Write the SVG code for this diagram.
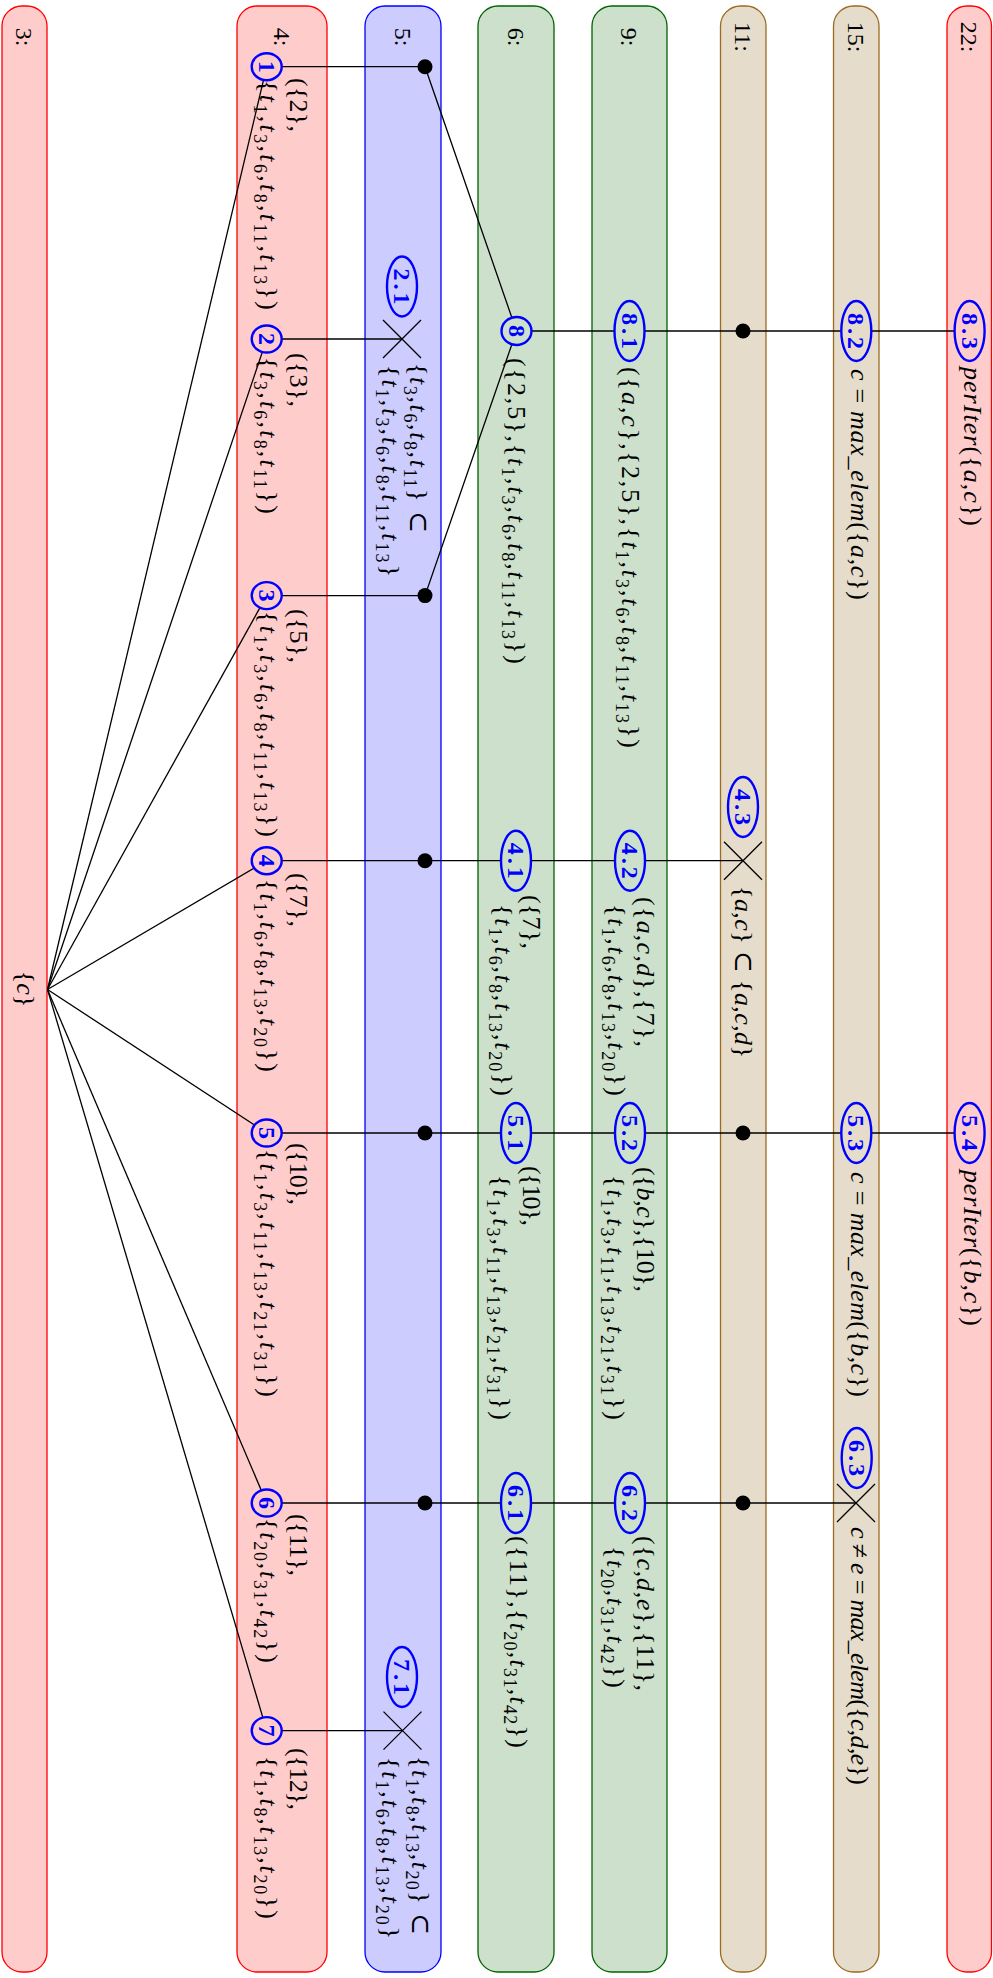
<svg xmlns="http://www.w3.org/2000/svg" width="993" height="1978" viewBox="0 0 993 1978">
<style>
.lane{stroke-width:1.3}
.red{fill:#ffcccc;stroke:#ff0000}
.blu{fill:#ccccff;stroke:#0000ff}
.grn{fill:#cce0cc;stroke:#006400}
.brn{fill:#e6dccb;stroke:#9c6b1e}
.fr{fill:#ffcccc}.fb{fill:#ccccff}.fg{fill:#cce0cc}.fn{fill:#e6dccb}
.m{font-family:"Liberation Serif","DejaVu Serif",serif;font-size:26px;fill:#000}
.lbl{font-family:"Liberation Serif","DejaVu Serif",serif;font-size:24px;fill:#000;text-anchor:middle}
.i{font-style:italic}
.s{font-size:18px}
.id{font-family:"Liberation Serif","DejaVu Serif",serif;font-size:24px;font-weight:bold;fill:#0000ff;text-anchor:middle}
.node{stroke:#0000ff;stroke-width:2.4}
.edge{stroke:#000;stroke-width:1.3;fill:none}
.dot{fill:#000}
.cross{stroke:#000;stroke-width:1.3}
</style>

<!-- swim lanes -->
<g id="lanes">
  <g id="lane-3"><rect class="lane red" x="2" y="6" width="45" height="1966" rx="20"/><text class="lbl" transform="translate(16,37) rotate(90)">3:</text>
    <text class="m" text-anchor="middle" transform="translate(17,989) rotate(90)">{<tspan class="i">c</tspan>}</text></g>
  <g id="lane-4"><rect class="lane red" x="237" y="6" width="90" height="1966" rx="20"/><text class="lbl" transform="translate(273.5,37) rotate(90)">4:</text></g>
  <g id="lane-5"><rect class="lane blu" x="365" y="6" width="76" height="1966" rx="20"/><text class="lbl" transform="translate(394.5,37) rotate(90)">5:</text></g>
  <g id="lane-6"><rect class="lane grn" x="478" y="6" width="76" height="1966" rx="20"/><text class="lbl" transform="translate(507.5,37) rotate(90)">6:</text></g>
  <g id="lane-9"><rect class="lane grn" x="592" y="6" width="75" height="1966" rx="20"/><text class="lbl" transform="translate(621,37) rotate(90)">9:</text></g>
  <g id="lane-11"><rect class="lane brn" x="720.5" y="6" width="45.5" height="1966" rx="20"/><text class="lbl" transform="translate(734.5,37) rotate(90)">11:</text></g>
  <g id="lane-15"><rect class="lane brn" x="833.5" y="6" width="45.5" height="1966" rx="20"/><text class="lbl" transform="translate(847.5,37) rotate(90)">15:</text></g>
  <g id="lane-22"><rect class="lane red" x="947" y="6" width="44.5" height="1966" rx="20"/><text class="lbl" transform="translate(960.5,37) rotate(90)">22:</text></g>
</g>

<!-- connectors -->
<g id="connectors" class="edge">
  <path d="M47.5 989.5 L266.7 66.7"/>
  <path d="M47.5 989.5 L266.7 339"/>
  <path d="M47.5 989.5 L266.7 595.6"/>
  <path d="M47.5 989.5 L266.7 860.7"/>
  <path d="M47.5 989.5 L266.7 1133"/>
  <path d="M47.5 989.5 L266.7 1503"/>
  <path d="M47.5 989.5 L266.7 1730.6"/>
  <path d="M266.7 66.7 H425 L516.5 331"/>
  <path d="M266.7 339 H402"/>
  <path d="M266.7 595.6 H425 L516.5 331"/>
  <path d="M516.5 331 H969.5"/>
  <path d="M266.7 860.7 H743"/>
  <path d="M266.7 1133 H969.5"/>
  <path d="M266.7 1503 H856"/>
  <path d="M266.7 1730.6 H402.5"/>
</g>

<!-- junction dots and cut marks -->
<g id="j-5-1"><circle class="dot" cx="425" cy="66.7" r="7.5"/></g>
<g id="j-5-3"><circle class="dot" cx="425" cy="595.6" r="7.5"/></g>
<g id="j-5-4"><circle class="dot" cx="425" cy="860.7" r="7.5"/></g>
<g id="j-5-5"><circle class="dot" cx="425" cy="1133" r="7.5"/></g>
<g id="j-5-6"><circle class="dot" cx="425" cy="1503" r="7.5"/></g>
<g id="j-11-8"><circle class="dot" cx="743" cy="331" r="7.5"/></g>
<g id="j-11-5"><circle class="dot" cx="743" cy="1133" r="7.5"/></g>
<g id="j-11-6"><circle class="dot" cx="743" cy="1503" r="7.5"/></g>
<g id="x-5-2" class="cross"><path d="M383 320 L421 358 M421 320 L383 358"/></g>
<g id="x-11-4" class="cross"><path d="M724 841.7 L762 879.7 M762 841.7 L724 879.7"/></g>
<g id="x-15-6" class="cross"><path d="M837 1484 L875 1522 M875 1484 L837 1522"/></g>
<g id="x-5-7" class="cross"><path d="M383.5 1711.6 L421.5 1749.6 M421.5 1711.6 L383.5 1749.6"/></g>

<!-- lane 4 nodes -->
<g id="n1"><ellipse class="node fr" cx="266.7" cy="66.7" rx="15" ry="13.5"/><text class="id" transform="translate(258.7,66.7) rotate(90)">1</text>
  <text class="m" transform="translate(290,78) rotate(90)" textLength="54" lengthAdjust="spacing">({2},</text>
  <text class="m" transform="translate(260,80) rotate(90)" textLength="230" lengthAdjust="spacing">{<tspan class="i">t</tspan><tspan class="s" dy="6">1</tspan><tspan dy="-6">,</tspan><tspan class="i">t</tspan><tspan class="s" dy="6">3</tspan><tspan dy="-6">,</tspan><tspan class="i">t</tspan><tspan class="s" dy="6">6</tspan><tspan dy="-6">,</tspan><tspan class="i">t</tspan><tspan class="s" dy="6">8</tspan><tspan dy="-6">,</tspan><tspan class="i">t</tspan><tspan class="s" dy="6">11</tspan><tspan dy="-6">,</tspan><tspan class="i">t</tspan><tspan class="s" dy="6">13</tspan><tspan dy="-6">})</tspan></text></g>
<g id="n2"><ellipse class="node fr" cx="266.7" cy="339" rx="15" ry="13.5"/><text class="id" transform="translate(258.7,339) rotate(90)">2</text>
  <text class="m" transform="translate(290,353) rotate(90)" textLength="54" lengthAdjust="spacing">({3},</text>
  <text class="m" transform="translate(260,357) rotate(90)" textLength="157" lengthAdjust="spacing">{<tspan class="i">t</tspan><tspan class="s" dy="6">3</tspan><tspan dy="-6">,</tspan><tspan class="i">t</tspan><tspan class="s" dy="6">6</tspan><tspan dy="-6">,</tspan><tspan class="i">t</tspan><tspan class="s" dy="6">8</tspan><tspan dy="-6">,</tspan><tspan class="i">t</tspan><tspan class="s" dy="6">11</tspan><tspan dy="-6">})</tspan></text></g>
<g id="n3"><ellipse class="node fr" cx="266.7" cy="595.6" rx="15" ry="13.5"/><text class="id" transform="translate(258.7,595.6) rotate(90)">3</text>
  <text class="m" transform="translate(290,609) rotate(90)" textLength="54" lengthAdjust="spacing">({5},</text>
  <text class="m" transform="translate(260,611) rotate(90)" textLength="226" lengthAdjust="spacing">{<tspan class="i">t</tspan><tspan class="s" dy="6">1</tspan><tspan dy="-6">,</tspan><tspan class="i">t</tspan><tspan class="s" dy="6">3</tspan><tspan dy="-6">,</tspan><tspan class="i">t</tspan><tspan class="s" dy="6">6</tspan><tspan dy="-6">,</tspan><tspan class="i">t</tspan><tspan class="s" dy="6">8</tspan><tspan dy="-6">,</tspan><tspan class="i">t</tspan><tspan class="s" dy="6">11</tspan><tspan dy="-6">,</tspan><tspan class="i">t</tspan><tspan class="s" dy="6">13</tspan><tspan dy="-6">})</tspan></text></g>
<g id="n4"><ellipse class="node fr" cx="266.7" cy="860.7" rx="15" ry="13.5"/><text class="id" transform="translate(258.7,860.7) rotate(90)">4</text>
  <text class="m" transform="translate(290,873) rotate(90)" textLength="54" lengthAdjust="spacing">({7},</text>
  <text class="m" transform="translate(260,879) rotate(90)" textLength="193" lengthAdjust="spacing">{<tspan class="i">t</tspan><tspan class="s" dy="6">1</tspan><tspan dy="-6">,</tspan><tspan class="i">t</tspan><tspan class="s" dy="6">6</tspan><tspan dy="-6">,</tspan><tspan class="i">t</tspan><tspan class="s" dy="6">8</tspan><tspan dy="-6">,</tspan><tspan class="i">t</tspan><tspan class="s" dy="6">13</tspan><tspan dy="-6">,</tspan><tspan class="i">t</tspan><tspan class="s" dy="6">20</tspan><tspan dy="-6">})</tspan></text></g>
<g id="n5"><ellipse class="node fr" cx="266.7" cy="1133" rx="15" ry="13.5"/><text class="id" transform="translate(258.7,1133) rotate(90)">5</text>
  <text class="m" transform="translate(290,1143) rotate(90)" textLength="62" lengthAdjust="spacing">({10},</text>
  <text class="m" transform="translate(260,1149) rotate(90)" textLength="248" lengthAdjust="spacing">{<tspan class="i">t</tspan><tspan class="s" dy="6">1</tspan><tspan dy="-6">,</tspan><tspan class="i">t</tspan><tspan class="s" dy="6">3</tspan><tspan dy="-6">,</tspan><tspan class="i">t</tspan><tspan class="s" dy="6">11</tspan><tspan dy="-6">,</tspan><tspan class="i">t</tspan><tspan class="s" dy="6">13</tspan><tspan dy="-6">,</tspan><tspan class="i">t</tspan><tspan class="s" dy="6">21</tspan><tspan dy="-6">,</tspan><tspan class="i">t</tspan><tspan class="s" dy="6">31</tspan><tspan dy="-6">})</tspan></text></g>
<g id="n6"><ellipse class="node fr" cx="266.7" cy="1503" rx="15" ry="13.5"/><text class="id" transform="translate(258.7,1503) rotate(90)">6</text>
  <text class="m" transform="translate(290,1514) rotate(90)" textLength="62" lengthAdjust="spacing">({11},</text>
  <text class="m" transform="translate(260,1518) rotate(90)" textLength="145" lengthAdjust="spacing">{<tspan class="i">t</tspan><tspan class="s" dy="6">20</tspan><tspan dy="-6">,</tspan><tspan class="i">t</tspan><tspan class="s" dy="6">31</tspan><tspan dy="-6">,</tspan><tspan class="i">t</tspan><tspan class="s" dy="6">42</tspan><tspan dy="-6">})</tspan></text></g>
<g id="n7"><ellipse class="node fr" cx="266.7" cy="1730.6" rx="15" ry="13.5"/><text class="id" transform="translate(258.7,1730.6) rotate(90)">7</text>
  <text class="m" transform="translate(290,1748) rotate(90)" textLength="62" lengthAdjust="spacing">({12},</text>
  <text class="m" transform="translate(260,1756) rotate(90)" textLength="163" lengthAdjust="spacing">{<tspan class="i">t</tspan><tspan class="s" dy="6">1</tspan><tspan dy="-6">,</tspan><tspan class="i">t</tspan><tspan class="s" dy="6">8</tspan><tspan dy="-6">,</tspan><tspan class="i">t</tspan><tspan class="s" dy="6">13</tspan><tspan dy="-6">,</tspan><tspan class="i">t</tspan><tspan class="s" dy="6">20</tspan><tspan dy="-6">})</tspan></text></g>

<!-- lane 5 nodes -->
<g id="n2-1"><ellipse class="node fb" cx="402" cy="286.5" rx="15" ry="30"/><text class="id" transform="translate(394,286.5) rotate(90)" textLength="36" lengthAdjust="spacing">2.1</text>
  <text class="m" transform="translate(410,363) rotate(90)" textLength="170" lengthAdjust="spacing">{<tspan class="i">t</tspan><tspan class="s" dy="6">3</tspan><tspan dy="-6">,</tspan><tspan class="i">t</tspan><tspan class="s" dy="6">6</tspan><tspan dy="-6">,</tspan><tspan class="i">t</tspan><tspan class="s" dy="6">8</tspan><tspan dy="-6">,</tspan><tspan class="i">t</tspan><tspan class="s" dy="6">11</tspan><tspan dy="-6">} ⊂</tspan></text>
  <text class="m" transform="translate(382,365) rotate(90)" textLength="212" lengthAdjust="spacing">{<tspan class="i">t</tspan><tspan class="s" dy="6">1</tspan><tspan dy="-6">,</tspan><tspan class="i">t</tspan><tspan class="s" dy="6">3</tspan><tspan dy="-6">,</tspan><tspan class="i">t</tspan><tspan class="s" dy="6">6</tspan><tspan dy="-6">,</tspan><tspan class="i">t</tspan><tspan class="s" dy="6">8</tspan><tspan dy="-6">,</tspan><tspan class="i">t</tspan><tspan class="s" dy="6">11</tspan><tspan dy="-6">,</tspan><tspan class="i">t</tspan><tspan class="s" dy="6">13</tspan><tspan dy="-6">}</tspan></text></g>
<g id="n7-1"><ellipse class="node fb" cx="402" cy="1677" rx="15" ry="30"/><text class="id" transform="translate(394,1677) rotate(90)" textLength="36" lengthAdjust="spacing">7.1</text>
  <text class="m" transform="translate(412,1756) rotate(90)" textLength="179" lengthAdjust="spacing">{<tspan class="i">t</tspan><tspan class="s" dy="6">1</tspan><tspan dy="-6">,</tspan><tspan class="i">t</tspan><tspan class="s" dy="6">8</tspan><tspan dy="-6">,</tspan><tspan class="i">t</tspan><tspan class="s" dy="6">13</tspan><tspan dy="-6">,</tspan><tspan class="i">t</tspan><tspan class="s" dy="6">20</tspan><tspan dy="-6">} ⊂</tspan></text>
  <text class="m" transform="translate(382,1757) rotate(90)" textLength="182" lengthAdjust="spacing">{<tspan class="i">t</tspan><tspan class="s" dy="6">1</tspan><tspan dy="-6">,</tspan><tspan class="i">t</tspan><tspan class="s" dy="6">6</tspan><tspan dy="-6">,</tspan><tspan class="i">t</tspan><tspan class="s" dy="6">8</tspan><tspan dy="-6">,</tspan><tspan class="i">t</tspan><tspan class="s" dy="6">13</tspan><tspan dy="-6">,</tspan><tspan class="i">t</tspan><tspan class="s" dy="6">20</tspan><tspan dy="-6">}</tspan></text></g>

<!-- lane 6 nodes -->
<g id="n8"><ellipse class="node fg" cx="516.5" cy="331" rx="15" ry="14"/><text class="id" transform="translate(508.5,331) rotate(90)">8</text>
  <text class="m" transform="translate(508,358) rotate(90)" textLength="306" lengthAdjust="spacing">({2,5},{<tspan class="i">t</tspan><tspan class="s" dy="6">1</tspan><tspan dy="-6">,</tspan><tspan class="i">t</tspan><tspan class="s" dy="6">3</tspan><tspan dy="-6">,</tspan><tspan class="i">t</tspan><tspan class="s" dy="6">6</tspan><tspan dy="-6">,</tspan><tspan class="i">t</tspan><tspan class="s" dy="6">8</tspan><tspan dy="-6">,</tspan><tspan class="i">t</tspan><tspan class="s" dy="6">11</tspan><tspan dy="-6">,</tspan><tspan class="i">t</tspan><tspan class="s" dy="6">13</tspan><tspan dy="-6">})</tspan></text></g>
<g id="n4-1"><ellipse class="node fg" cx="516" cy="860.7" rx="15" ry="30"/><text class="id" transform="translate(508,860.7) rotate(90)" textLength="36" lengthAdjust="spacing">4.1</text>
  <text class="m" transform="translate(523,895) rotate(90)" textLength="54" lengthAdjust="spacing">({7},</text>
  <text class="m" transform="translate(495,904) rotate(90)" textLength="192" lengthAdjust="spacing">{<tspan class="i">t</tspan><tspan class="s" dy="6">1</tspan><tspan dy="-6">,</tspan><tspan class="i">t</tspan><tspan class="s" dy="6">6</tspan><tspan dy="-6">,</tspan><tspan class="i">t</tspan><tspan class="s" dy="6">8</tspan><tspan dy="-6">,</tspan><tspan class="i">t</tspan><tspan class="s" dy="6">13</tspan><tspan dy="-6">,</tspan><tspan class="i">t</tspan><tspan class="s" dy="6">20</tspan><tspan dy="-6">})</tspan></text></g>
<g id="n5-1"><ellipse class="node fg" cx="516" cy="1133" rx="15" ry="30"/><text class="id" transform="translate(508,1133) rotate(90)" textLength="36" lengthAdjust="spacing">5.1</text>
  <text class="m" transform="translate(523,1166) rotate(90)" textLength="60" lengthAdjust="spacing">({10},</text>
  <text class="m" transform="translate(493,1175) rotate(90)" textLength="245" lengthAdjust="spacing">{<tspan class="i">t</tspan><tspan class="s" dy="6">1</tspan><tspan dy="-6">,</tspan><tspan class="i">t</tspan><tspan class="s" dy="6">3</tspan><tspan dy="-6">,</tspan><tspan class="i">t</tspan><tspan class="s" dy="6">11</tspan><tspan dy="-6">,</tspan><tspan class="i">t</tspan><tspan class="s" dy="6">13</tspan><tspan dy="-6">,</tspan><tspan class="i">t</tspan><tspan class="s" dy="6">21</tspan><tspan dy="-6">,</tspan><tspan class="i">t</tspan><tspan class="s" dy="6">31</tspan><tspan dy="-6">})</tspan></text></g>
<g id="n6-1"><ellipse class="node fg" cx="516" cy="1503" rx="15" ry="30"/><text class="id" transform="translate(508,1503) rotate(90)" textLength="36" lengthAdjust="spacing">6.1</text>
  <text class="m" transform="translate(510,1536) rotate(90)" textLength="212" lengthAdjust="spacing">({11},{<tspan class="i">t</tspan><tspan class="s" dy="6">20</tspan><tspan dy="-6">,</tspan><tspan class="i">t</tspan><tspan class="s" dy="6">31</tspan><tspan dy="-6">,</tspan><tspan class="i">t</tspan><tspan class="s" dy="6">42</tspan><tspan dy="-6">})</tspan></text></g>

<!-- lane 9 nodes -->
<g id="n8-1"><ellipse class="node fg" cx="629.5" cy="331" rx="15" ry="30"/><text class="id" transform="translate(621.5,331) rotate(90)" textLength="36" lengthAdjust="spacing">8.1</text>
  <text class="m" transform="translate(622,367) rotate(90)" textLength="381" lengthAdjust="spacing">({<tspan class="i">a</tspan>,<tspan class="i">c</tspan>},{2,5},{<tspan class="i">t</tspan><tspan class="s" dy="6">1</tspan><tspan dy="-6">,</tspan><tspan class="i">t</tspan><tspan class="s" dy="6">3</tspan><tspan dy="-6">,</tspan><tspan class="i">t</tspan><tspan class="s" dy="6">6</tspan><tspan dy="-6">,</tspan><tspan class="i">t</tspan><tspan class="s" dy="6">8</tspan><tspan dy="-6">,</tspan><tspan class="i">t</tspan><tspan class="s" dy="6">11</tspan><tspan dy="-6">,</tspan><tspan class="i">t</tspan><tspan class="s" dy="6">13</tspan><tspan dy="-6">})</tspan></text></g>
<g id="n4-2"><ellipse class="node fg" cx="630" cy="860.7" rx="15" ry="30"/><text class="id" transform="translate(622,860.7) rotate(90)" textLength="36" lengthAdjust="spacing">4.2</text>
  <text class="m" transform="translate(637,897) rotate(90)" textLength="150" lengthAdjust="spacing">({<tspan class="i">a</tspan>,<tspan class="i">c</tspan>,<tspan class="i">d</tspan>},{7},</text>
  <text class="m" transform="translate(608,904) rotate(90)" textLength="192" lengthAdjust="spacing">{<tspan class="i">t</tspan><tspan class="s" dy="6">1</tspan><tspan dy="-6">,</tspan><tspan class="i">t</tspan><tspan class="s" dy="6">6</tspan><tspan dy="-6">,</tspan><tspan class="i">t</tspan><tspan class="s" dy="6">8</tspan><tspan dy="-6">,</tspan><tspan class="i">t</tspan><tspan class="s" dy="6">13</tspan><tspan dy="-6">,</tspan><tspan class="i">t</tspan><tspan class="s" dy="6">20</tspan><tspan dy="-6">})</tspan></text></g>
<g id="n5-2"><ellipse class="node fg" cx="630" cy="1133" rx="15" ry="30"/><text class="id" transform="translate(622,1133) rotate(90)" textLength="36" lengthAdjust="spacing">5.2</text>
  <text class="m" transform="translate(637,1167) rotate(90)" textLength="125" lengthAdjust="spacing">({<tspan class="i">b</tspan>,<tspan class="i">c</tspan>},{10},</text>
  <text class="m" transform="translate(607,1175) rotate(90)" textLength="245" lengthAdjust="spacing">{<tspan class="i">t</tspan><tspan class="s" dy="6">1</tspan><tspan dy="-6">,</tspan><tspan class="i">t</tspan><tspan class="s" dy="6">3</tspan><tspan dy="-6">,</tspan><tspan class="i">t</tspan><tspan class="s" dy="6">11</tspan><tspan dy="-6">,</tspan><tspan class="i">t</tspan><tspan class="s" dy="6">13</tspan><tspan dy="-6">,</tspan><tspan class="i">t</tspan><tspan class="s" dy="6">21</tspan><tspan dy="-6">,</tspan><tspan class="i">t</tspan><tspan class="s" dy="6">31</tspan><tspan dy="-6">})</tspan></text></g>
<g id="n6-2"><ellipse class="node fg" cx="630" cy="1503" rx="15" ry="30"/><text class="id" transform="translate(622,1503) rotate(90)" textLength="36" lengthAdjust="spacing">6.2</text>
  <text class="m" transform="translate(637,1536) rotate(90)" textLength="155" lengthAdjust="spacing">({<tspan class="i">c</tspan>,<tspan class="i">d</tspan>,<tspan class="i">e</tspan>},{11},</text>
  <text class="m" transform="translate(607,1546) rotate(90)" textLength="142" lengthAdjust="spacing">{<tspan class="i">t</tspan><tspan class="s" dy="6">20</tspan><tspan dy="-6">,</tspan><tspan class="i">t</tspan><tspan class="s" dy="6">31</tspan><tspan dy="-6">,</tspan><tspan class="i">t</tspan><tspan class="s" dy="6">42</tspan><tspan dy="-6">})</tspan></text></g>

<!-- lane 11 nodes -->
<g id="n4-3"><ellipse class="node fn" cx="743" cy="807" rx="15" ry="30"/><text class="id" transform="translate(735,807) rotate(90)" textLength="36" lengthAdjust="spacing">4.3</text>
  <text class="m" transform="translate(735,886) rotate(90)" textLength="172" lengthAdjust="spacing">{<tspan class="i">a</tspan>,<tspan class="i">c</tspan>} ⊂ {<tspan class="i">a</tspan>,<tspan class="i">c</tspan>,<tspan class="i">d</tspan>}</text></g>

<!-- lane 15 nodes -->
<g id="n8-2"><ellipse class="node fn" cx="856.3" cy="331" rx="15" ry="30"/><text class="id" transform="translate(848.3,331) rotate(90)" textLength="36" lengthAdjust="spacing">8.2</text>
  <text class="m" transform="translate(850.5,369) rotate(90)" textLength="231" lengthAdjust="spacing"><tspan class="i">c</tspan> = <tspan class="i">max_elem</tspan>({<tspan class="i">a</tspan>,<tspan class="i">c</tspan>})</text></g>
<g id="n5-3"><ellipse class="node fn" cx="856.3" cy="1133" rx="15" ry="30"/><text class="id" transform="translate(848.3,1133) rotate(90)" textLength="36" lengthAdjust="spacing">5.3</text>
  <text class="m" transform="translate(851,1172) rotate(90)" textLength="225" lengthAdjust="spacing"><tspan class="i">c</tspan> = <tspan class="i">max_elem</tspan>({<tspan class="i">b</tspan>,<tspan class="i">c</tspan>})</text></g>
<g id="n6-3"><ellipse class="node fn" cx="856.7" cy="1458" rx="15" ry="30"/><text class="id" transform="translate(848.7,1458) rotate(90)" textLength="36" lengthAdjust="spacing">6.3</text>
  <text class="m" transform="translate(851,1527) rotate(90)" textLength="258" lengthAdjust="spacing"><tspan class="i">c</tspan> ≠ <tspan class="i">e</tspan> = <tspan class="i">max_elem</tspan>({<tspan class="i">c</tspan>,<tspan class="i">d</tspan>,<tspan class="i">e</tspan>})</text></g>

<!-- lane 22 nodes -->
<g id="n8-3"><ellipse class="node fr" cx="969.6" cy="331" rx="15" ry="30"/><text class="id" transform="translate(961.6,331) rotate(90)" textLength="36" lengthAdjust="spacing">8.3</text>
  <text class="m" transform="translate(963.5,367) rotate(90)" textLength="159" lengthAdjust="spacing"><tspan class="i">perIter</tspan>({<tspan class="i">a</tspan>,<tspan class="i">c</tspan>})</text></g>
<g id="n5-4"><ellipse class="node fr" cx="969.6" cy="1133" rx="15" ry="30"/><text class="id" transform="translate(961.6,1133) rotate(90)" textLength="36" lengthAdjust="spacing">5.4</text>
  <text class="m" transform="translate(963.5,1170) rotate(90)" textLength="156" lengthAdjust="spacing"><tspan class="i">perIter</tspan>({<tspan class="i">b</tspan>,<tspan class="i">c</tspan>})</text></g>
</svg>
